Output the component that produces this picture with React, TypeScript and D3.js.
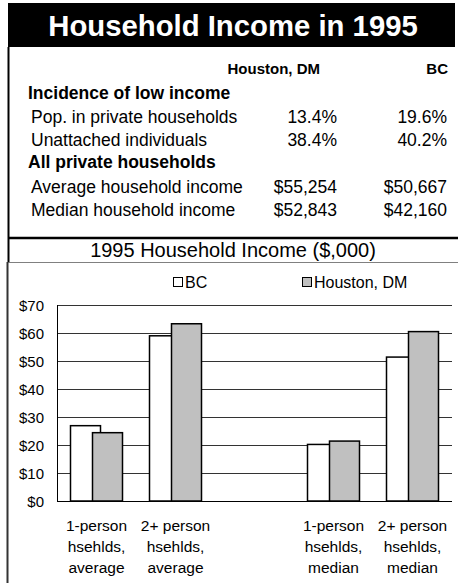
import React from "react";
import * as d3 from "d3";

const title = "Household Income in 1995";
const colHeaders = ["Houston, DM", "BC"];
const sectionLow = "Incidence of low income";
const rowsLow = ["Pop. in private households", "Unattached individuals"];
const houstonLow = ["13.4%", "38.4%"];
const bcLow = ["19.6%", "40.2%"];
const sectionAll = "All private households";
const rowsAll = ["Average household income", "Median household income"];
const houstonAll = ["$55,254", "$52,843"];
const bcAll = ["$50,667", "$42,160"];

const chartTitle = "1995 Household Income ($,000)";
const categories = [
  ["1-person", "hsehlds,", "average"],
  ["2+ person", "hsehlds,", "average"],
  [],
  ["1-person", "hsehlds,", "median"],
  ["2+ person", "hsehlds,", "median"],
];
const seriesNames = ["BC", "Houston, DM"];
const bcValues = [26.9, 59.0, null, 20.2, 51.4];
const houstonValues = [24.4, 63.3, null, 21.4, 60.5];
const yTicks = [0, 10, 20, 30, 40, 50, 60, 70];

const FONT = "'Liberation Sans', Arial, Helvetica, sans-serif";

export default function App() {
  const W = 458, H = 583;
  const plotL = 57, plotR = 452, plotT = 305, plotB = 501;
  const x = d3.scaleBand<number>().domain(d3.range(categories.length)).range([plotL, plotR]).padding(0);
  const y = d3.scaleLinear().domain([0, 70]).range([plotB, plotT]);
  const barW = 30, overlap = 8;
  const groupW = 2 * barW - overlap;
  const series = [
    { name: seriesNames[0], values: bcValues, fill: "#ffffff", off: 0 },
    { name: seriesNames[1], values: houstonValues, fill: "#c0c0c0", off: barW - overlap },
  ];

  const baseY = [99, 123, 146, 168, 193, 216];
  const colR = [337, 447];
  const fs = 17.5;

  return (
    <svg width={W} height={H} style={{ position: "absolute", left: 0, top: 0, background: "#fff" }} fontFamily={FONT}>
      {/* title band */}
      <rect x={8} y={3} width={447} height={44} fill="#000" />
      <text x={233} y={36} textAnchor="middle" fill="#fff" fontWeight="bold" fontSize={29.3}>{title}</text>
      {/* table box */}
      <line x1={8.5} x2={8.5} y1={47} y2={262} stroke="#000" strokeWidth={2} />
      <line x1={8} x2={458} y1={238} y2={238} stroke="#000" strokeWidth={2.5} />
      <text x={320} y={74} textAnchor="end" fontWeight="bold" fontSize={15}>{colHeaders[0]}</text>
      <text x={448} y={74} textAnchor="end" fontWeight="bold" fontSize={15}>{colHeaders[1]}</text>
      <text x={28} y={baseY[0]} fontWeight="bold" fontSize={fs}>{sectionLow}</text>
      {rowsLow.map((r, i) => (
        <g key={r} fontSize={fs}>
          <text x={31} y={baseY[1 + i]}>{r}</text>
          <text x={colR[0]} y={baseY[1 + i]} textAnchor="end">{houstonLow[i]}</text>
          <text x={colR[1]} y={baseY[1 + i]} textAnchor="end">{bcLow[i]}</text>
        </g>
      ))}
      <text x={28} y={baseY[3]} fontWeight="bold" fontSize={fs}>{sectionAll}</text>
      {rowsAll.map((r, i) => (
        <g key={r} fontSize={fs}>
          <text x={31} y={baseY[4 + i]}>{r}</text>
          <text x={colR[0]} y={baseY[4 + i]} textAnchor="end">{houstonAll[i]}</text>
          <text x={colR[1]} y={baseY[4 + i]} textAnchor="end">{bcAll[i]}</text>
        </g>
      ))}
      <text x={233} y={257} textAnchor="middle" fontSize={20}>{chartTitle}</text>

      {/* chart box */}
      <line x1={7} x2={458} y1={262.5} y2={262.5} stroke="#808080" strokeWidth={1} />
      <line x1={7.5} x2={7.5} y1={262} y2={583} stroke="#333" strokeWidth={2} />

      {/* legend */}
      {series.map((s, i) => {
        const lx = i === 0 ? 173 : 302;
        return (
          <g key={s.name}>
            <rect x={lx + 0.5} y={277.5} width={9} height={9} fill={s.fill} stroke="#000" strokeWidth={1} />
            <text x={lx + 12} y={288} fontSize={16}>{s.name}</text>
          </g>
        );
      })}

      {/* gridlines */}
      {yTicks.map((t) => (
        <g key={t}>
          <line x1={plotL} x2={plotR} y1={Math.round(y(t)) + 0.5} y2={Math.round(y(t)) + 0.5} stroke={t === 0 ? "#000" : "#333"} strokeWidth={1} />
          <text x={44} y={y(t) + 5.5} textAnchor="end" fontSize={15}>{"$" + t}</text>
        </g>
      ))}
      <line x1={plotL + 0.5} x2={plotL + 0.5} y1={plotT} y2={plotB} stroke="#000" strokeWidth={1} />

      {/* bars */}
      {series.map((s) =>
        s.values.map((v, i) => {
          if (v == null) return null;
          const cx = x(i)! + x.bandwidth() / 2;
          const bx = cx - groupW / 2 + s.off;
          return (
            <rect key={s.name + i} x={bx} y={y(v)} width={barW} height={plotB - y(v)} fill={s.fill} stroke="#000" strokeWidth={1.5} />
          );
        })
      )}

      {/* x labels */}
      {categories.map((lines, i) => (
        <text key={i} x={x(i)! + x.bandwidth() / 2} textAnchor="middle" fontSize={15.5}>
          {lines.map((l, j) => (
            <tspan key={j} x={x(i)! + x.bandwidth() / 2} y={531 + j * 21}>{l}</tspan>
          ))}
        </text>
      ))}
    </svg>
  );
}
